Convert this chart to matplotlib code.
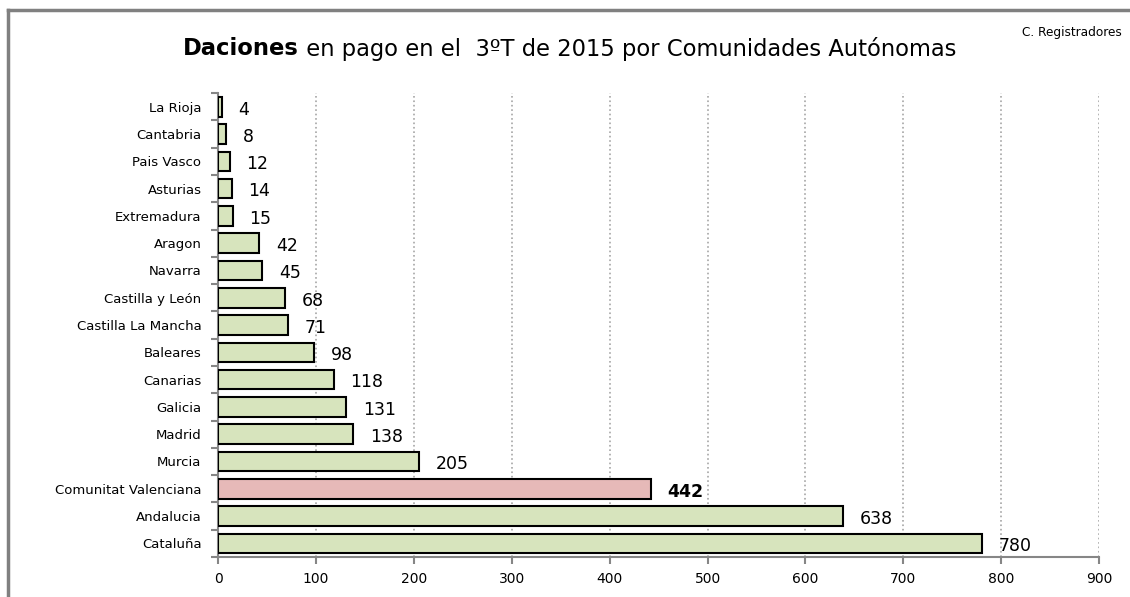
import matplotlib.pyplot as plt
from matplotlib.lines import Line2D

regions = ['La Rioja', 'Cantabria', 'Pais Vasco', 'Asturias', 'Extremadura', 'Aragon',
           'Navarra', 'Castilla y León', 'Castilla La Mancha', 'Baleares', 'Canarias',
           'Galicia', 'Madrid', 'Murcia', 'Comunitat Valenciana', 'Andalucia', 'Cataluña']
daciones = [4, 8, 12, 14, 15, 42, 45, 68, 71, 98, 118, 131, 138, 205, 442, 638, 780]
highlight = 'Comunitat Valenciana'
xticks = [0, 100, 200, 300, 400, 500, 600, 700, 800, 900]

plt.rcParams['font.family'] = ['DejaVu Sans']

fig = plt.figure(figsize=(11.3, 5.97), dpi=100)
ax = fig.add_axes([0.193, 0.067, 0.7797, 0.777])

#Bars from top to bottom
n = len(regions)
ypos = [n - 1 - i for i in range(n)]
colors = ['#E6B9B8' if r == highlight else '#D7E4BD' for r in regions]
ax.barh(ypos, daciones, height=0.72, color=colors, edgecolor='black', linewidth=1.5, zorder=3)

#Value labels
for y, v, r in zip(ypos, daciones, regions):
    ax.annotate(str(v), (v, y), xytext=(12, -2), textcoords='offset points',
                va='center', ha='left', fontsize=12.5,
                fontweight='bold' if r == highlight else 'normal')

#Axes and grid
ax.set_xlim(0, 900)
ax.set_ylim(-0.5, n - 0.5)
ax.set_xticks(xticks)
ax.set_yticks(ypos)
ax.set_yticklabels(regions, fontsize=9.5)
ax.set_yticks([i - 0.5 for i in range(n + 1)], minor=True)
ax.tick_params(axis='y', which='major', length=0, pad=12)
ax.tick_params(axis='y', which='minor', length=5, width=1.5, color='#868686', direction='out')
ax.tick_params(axis='x', length=5, width=1.5, color='#868686', labelsize=10, pad=6)
ax.xaxis.grid(True, linestyle=':', color='#A6A6A6', linewidth=1.2, zorder=0)
ax.set_axisbelow(True)
for s in ['top', 'right']:
    ax.spines[s].set_visible(False)
for s in ['left', 'bottom']:
    ax.spines[s].set_color('#868686')
    ax.spines[s].set_linewidth(1.5)

#Title: bold first word then the rest, placed right after it
renderer = fig.canvas.get_renderer()
t1 = fig.text(183 / 1130, 0.918, 'Daciones', fontsize=16.3, fontweight='bold', ha='left', va='center')
w1 = t1.get_window_extent(renderer).width / fig.bbox.width
fig.text(183 / 1130 + w1, 0.918, ' en pago en el  3ºT de 2015 por Comunidades Autónomas', fontsize=16.3,
         ha='left', va='center')
fig.text(0.993, 0.945, 'C. Registradores', fontsize=8.7, ha='right', va='center')

#Frame lines
fig.add_artist(Line2D([0.007, 0.007], [0, 0.983], color='#808080', linewidth=2.5))
fig.add_artist(Line2D([0.007, 1.0], [0.983, 0.983], color='#808080', linewidth=2.5))

plt.savefig('out.png', dpi=100)
plt.close()
